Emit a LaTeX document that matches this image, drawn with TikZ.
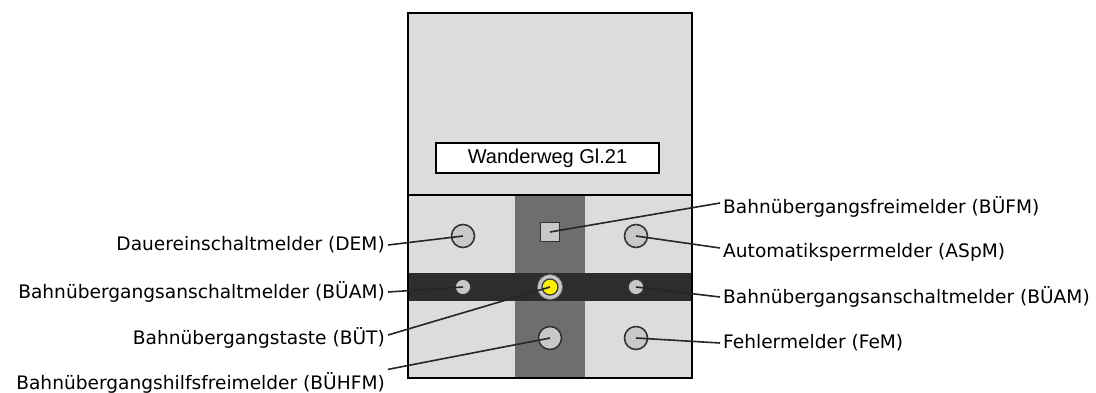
\documentclass[tikz,border=0pt]{standalone}
\usepackage{fontspec}
\setmainfont{DejaVu Sans}
\newfontfamily\schildfont{Liberation Sans}
\usetikzlibrary{positioning}

\definecolor{panelgray}{HTML}{DCDCDC}
\definecolor{stripgray}{HTML}{6E6E6E}
\definecolor{bandgray}{HTML}{2D2D2D}
\definecolor{lampgray}{HTML}{C8C8C8}
\definecolor{lampedge}{HTML}{333333}
\definecolor{lampyellow}{HTML}{FFF200}

\tikzset{
  melder/.style={circle, draw=lampedge, line width=1.6pt, fill=lampgray, minimum size=23pt, inner sep=0pt},
  kleinmelder/.style={melder, minimum size=16pt},
  lbl/.style={font=\fontsize{18.6}{21}\selectfont, inner sep=3pt},
  conn/.style={line width=1.6pt, draw=black!85}
}

\begin{document}
\begin{tikzpicture}[x=1pt, y=-1pt]
    \useasboundingbox (0,0) rectangle (1096,392);

    % Bedienfeld
    \fill[panelgray] (408,13) rectangle (692,378);
    \fill[stripgray] (515,195) rectangle (585,378);
    \fill[bandgray] (408,273) rectangle (692,301);
    \draw[line width=2.2pt] (408,13) rectangle (692,378);
    \draw[line width=2.2pt] (408,195) -- (692,195);
    \node[draw, line width=1.3pt, fill=white, minimum width=223pt, minimum height=30pt,
          font=\schildfont\fontsize{20}{22}\selectfont] (schild) at (547.5,158) {Wanderweg Gl.21};

    % Melder und Taste
    \node[melder] (dem) at (463,236) {};
    \node[draw=lampedge, line width=1.6pt, fill=lampgray, minimum size=19pt, inner sep=0pt] (buefm) at (550,232) {};
    \node[melder] (aspm) at (636,236) {};
    \node[kleinmelder] (bueaml) at (463,287) {};
    \node[circle, draw=black!55, line width=0.8pt, fill=lampgray, minimum size=25pt, inner sep=0pt] (buet) at (550,287) {};
    \node[circle, draw=lampedge, line width=1.2pt, fill=lampyellow, minimum size=16pt, inner sep=0pt] (buetk) at (buet) {};
    \node[kleinmelder] (bueamr) at (636,287) {};
    \node[melder] (buehfm) at (550,338) {};
    \node[melder] (fem) at (636,338) {};

    % Beschriftung links
    \node[lbl, anchor=east] (ldem) at (388,245) {Dauereinschaltmelder (DEM)};
    \node[lbl, anchor=east] (lbueaml) at (388,292) {Bahnübergangsanschaltmelder (BÜAM)};
    \node[lbl, anchor=east] (lbuet) at (388,338) {Bahnübergangstaste (BÜT)};
    \node[lbl, anchor=east] (lbuehfm) at (388,383) {Bahnübergangshilfsfreimelder (BÜHFM)};

    % Beschriftung rechts
    \node[lbl, anchor=west] (lbuefm) at (720,207) {Bahnübergangsfreimelder (BÜFM)};
    \node[lbl, anchor=west] (laspm) at (720,252) {Automatiksperrmelder (ASpM)};
    \node[lbl, anchor=west] (lbueamr) at (720,297) {Bahnübergangsanschaltmelder (BÜAM)};
    \node[lbl, anchor=west] (lfem) at (720,343) {Fehlermelder (FeM)};

    % Verbinder
    \draw[conn] (ldem.east) -- (dem.center);
    \draw[conn] (lbueaml.east) -- (bueaml.center);
    \draw[conn] ([yshift=3pt]lbuet.east) -- (buet.center);
    \draw[conn] (lbuehfm.north east) -- (buehfm.center);
    \draw[conn] ([yshift=4pt]lbuefm.west) -- (buefm.center);
    \draw[conn] ([yshift=4pt]laspm.west) -- (aspm.center);
    \draw[conn] (lbueamr.west) -- (bueamr.center);
    \draw[conn] (lfem.west) -- (fem.center);
\end{tikzpicture}
\end{document}
